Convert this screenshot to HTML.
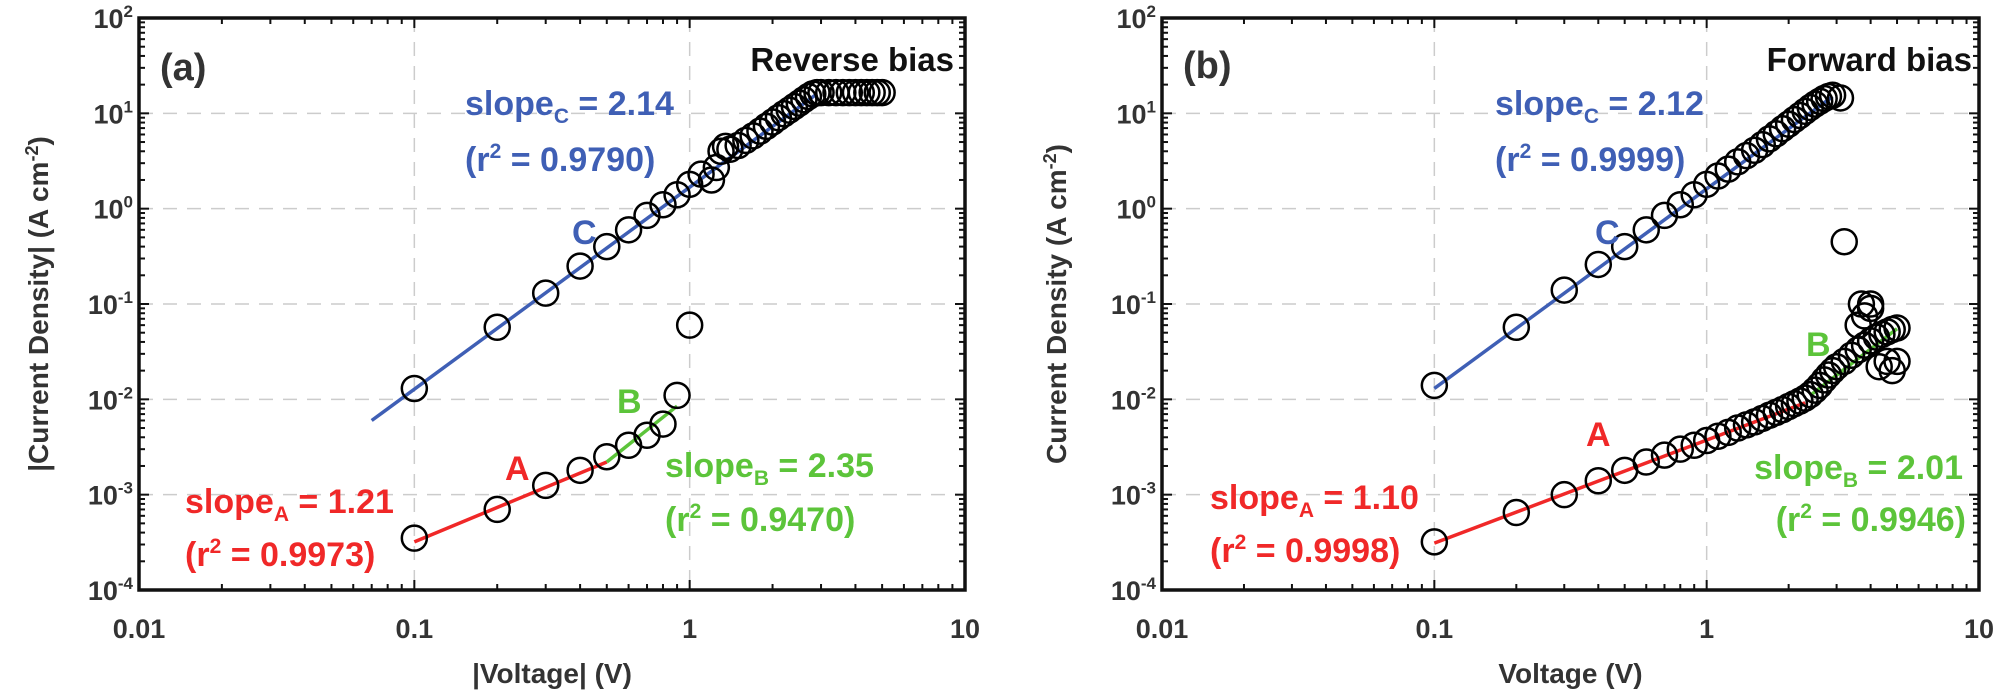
<!DOCTYPE html>
<html><head><meta charset="utf-8">
<style>
html,body{margin:0;padding:0;background:#fff;}
svg{display:block;font-family:"Liberation Sans",Arial,sans-serif;font-weight:bold;}
</style></head>
<body>
<svg id="chart" width="2000" height="695" viewBox="0 0 2000 695" xmlns="http://www.w3.org/2000/svg"></svg>
<script>
// ---- data: panel (a) reverse bias ----
const aVoltC = [0.1,0.2,0.3,0.4,0.5,0.6,0.7,0.8,0.9,1.0,1.1,1.2,1.25,1.3,1.35,1.4,1.5,1.6,1.7,1.8,1.9,2.0,2.1,2.2,2.3,2.4,2.5,2.6,2.7,2.8,2.9,3.0,3.2,3.4,3.6,3.8,4.0,4.2,4.4,4.6,4.8,5.0];
const aCurrC = [0.013,0.057,0.13,0.25,0.4,0.6,0.85,1.1,1.4,1.8,2.3,2.0,2.7,4.0,4.5,4.2,4.6,5.2,5.8,6.5,7.3,8.1,9.0,9.9,10.8,11.8,12.8,13.9,15,16,16.5,16.5,16.5,16.5,16.5,16.5,16.5,16.5,16.5,16.5,16.5,16.5];
const aVoltA = [0.1,0.2,0.3,0.4,0.5,0.6,0.7,0.8,0.9,1.0];
const aCurrA = [0.00035,0.0007,0.00125,0.0018,0.0025,0.0033,0.0042,0.0055,0.011,0.06];
const aFitC = [[0.07,0.006],[2.9,16]];
const aFitA = [[0.1,0.00032],[0.5,0.0022]];
const aFitB = [[0.5,0.0022],[0.9,0.0085]];
// ---- data: panel (b) forward bias ----
const bVoltC = [0.1,0.2,0.3,0.4,0.5,0.6,0.7,0.8,0.9,1.0,1.1,1.2,1.3,1.4,1.5,1.6,1.7,1.8,1.9,2.0,2.1,2.2,2.3,2.4,2.5,2.6,2.7,2.8,2.9,3.1,3.2];
const bCurrC = [0.014,0.057,0.14,0.26,0.4,0.6,0.85,1.1,1.4,1.8,2.2,2.6,3.1,3.6,4.1,4.7,5.4,6.1,6.9,7.7,8.6,9.5,10.5,11.5,12.5,13.4,14.3,15,15.5,14.5,0.45];
const bVoltA = [0.1,0.2,0.3,0.4,0.5,0.6,0.7,0.8,0.9,1.0,1.1,1.2,1.3,1.4,1.5,1.6,1.7,1.8,1.9,2.0,2.1,2.2,2.3,2.4,2.5,2.6,2.7,2.8,2.9,3.0,3.2,3.4,3.6,3.8,4.0,4.2,4.4,4.6,4.8,5.0,3.6,3.8,4.0,3.7,4.0,4.3,4.6,5.0,4.8];
const bCurrA = [0.00032,0.00065,0.001,0.0014,0.0018,0.0022,0.0026,0.003,0.0033,0.0037,0.0041,0.0045,0.005,0.0054,0.0058,0.0063,0.0068,0.0073,0.0078,0.0084,0.009,0.0096,0.0103,0.0112,0.0125,0.014,0.016,0.018,0.02,0.022,0.025,0.029,0.033,0.037,0.041,0.045,0.048,0.051,0.054,0.056,0.06,0.075,0.09,0.1,0.1,0.022,0.025,0.025,0.02];
const bFitC = [[0.1,0.013],[2.9,15]];
const bFitA = [[0.1,0.00031],[2.3,0.0092]];
const bFitB = [[2.4,0.011],[5.0,0.055]];
const xTickLabels = ["0.01","0.1","1","10"];
const yTickExps = ["-4","-3","-2","-1","0","1","2"];

const NS="http://www.w3.org/2000/svg";
const svg=document.getElementById('chart');
function mk(tag,attrs,parent){const e=document.createElementNS(NS,tag);for(const k in attrs)e.setAttribute(k,attrs[k]);(parent||svg).appendChild(e);return e;}

function panel(cfg){
  const g=mk('g',{});
  
  
  const L=cfg.left,R=cfg.right,T=18,B=590;
  const sx=v=>L+(Math.log10(v)+2)/3*(R-L);
  const sy=v=>B-(Math.log10(v)+4)/6*(B-T);
  const grid=mk('g',{},g);
  
  
  for(let e=-1;e<=0;e++){mk('line',{x1:sx(Math.pow(10,e)),x2:sx(Math.pow(10,e)),y1:T,y2:B,stroke:'#ccc','stroke-width':1.5,'stroke-dasharray':'14,10'},grid);}
  for(let e=-3;e<=1;e++){mk('line',{x1:L,x2:R,y1:sy(Math.pow(10,e)),y2:sy(Math.pow(10,e)),stroke:'#ccc','stroke-width':1.5,'stroke-dasharray':'14,10'},grid);}
  const ticks=mk('g',{stroke:'#111','stroke-width':2},g);
  
  
  for(let e=-2;e<1;e++)for(let m=1;m<=9;m++){const x=sx(m*Math.pow(10,e));const len=m===1?10:6;
    mk('line',{x1:x,x2:x,y1:B,y2:B-len},ticks);mk('line',{x1:x,x2:x,y1:T,y2:T+len},ticks);}
  for(let e=-4;e<2;e++)for(let m=1;m<=9;m++){const y=sy(m*Math.pow(10,e));const len=m===1?10:6;
    mk('line',{x1:L,x2:L+len,y1:y,y2:y},ticks);mk('line',{x1:R,x2:R-len,y1:y,y2:y},ticks);}
  const fr=mk('rect',{x:L,y:T,width:R-L,height:B-T,fill:'none',stroke:'#111','stroke-width':3.5},g);
  
  
  xTickLabels.forEach((t,i)=>{const tx=mk('text',{x:sx(Math.pow(10,i-2)),y:638,'text-anchor':'middle','font-size':27,fill:'#333'},g);tx.textContent=t;
    
    });
  yTickExps.forEach((t,i)=>{const tx=mk('text',{x:L-6,y:sy(Math.pow(10,i-4))+10,'text-anchor':'end','font-size':27,fill:'#333'},g);
    tx.innerHTML='10<tspan dy="-11" font-size="17">'+t+'</tspan>';
    
    });
  [[cfg.fitC,'#3f5fb5','fit-line-c'],[cfg.fitA,'#f02828','fit-line-a'],[cfg.fitB,'#5cc43a','fit-line-b']].forEach(([f,c,n])=>{
    const ln=mk('line',{x1:sx(f[0][0]),y1:sy(f[0][1]),x2:sx(f[1][0]),y2:sy(f[1][1]),stroke:c,'stroke-width':3.5},g);
    
    });
  const mg=mk('g',{fill:'none',stroke:'#000','stroke-width':2.5},g);
  
  
  [[cfg.vC,cfg.jC],[cfg.vA,cfg.jA]].forEach(([vs,js])=>vs.forEach((v,i)=>{
    const c=mk('circle',{cx:sx(v),cy:sy(js[i]),r:12.5},mg);
    
    }));
  cfg.texts.forEach(t=>{const tx=mk('text',{x:t.x,y:t.y,'font-size':t.fs||34,fill:t.c,'text-anchor':t.a||'start'},g);tx.innerHTML=t.h;
    
    });
  const yt=mk('text',{x:0,y:0,transform:`translate(${cfg.ytx},304) rotate(-90)`,'text-anchor':'middle','font-size':28,fill:'#333'},g);
  yt.innerHTML=cfg.ytitle+' (A cm<tspan dy="-10" font-size="18">-2</tspan><tspan dy="10">)</tspan>';
  
  
  const xt=mk('text',{x:(L+R)/2,y:683,'text-anchor':'middle','font-size':28,fill:'#333'},g);
  xt.textContent=cfg.xtitle;
  
  
}
const blue='#3f5fb5',red='#f02828',green='#5cc43a';
const sub=s=>'<tspan dy="8" font-size="21">'+s+'</tspan><tspan dy="-8">';
const sup='<tspan dy="-13" font-size="21">2</tspan><tspan dy="13">';
panel({name:'panel-a-reverse-bias',left:139,right:965,vC:aVoltC,jC:aCurrC,vA:aVoltA,jA:aCurrA,fitC:aFitC,fitA:aFitA,fitB:aFitB,
  ytx:48,ytitle:'|Current Density|',xtitle:'|Voltage| (V)',
  texts:[
   {x:160,y:80,h:'(a)',c:'#333',fs:38,n:'panel-label-a'},
   {x:954,y:71,h:'Reverse bias',c:'#111',fs:33,a:'end',n:'reverse-bias-label'},
   {x:465,y:115,h:'slope'+sub('C')+' = 2.14</tspan>',c:blue,n:'slope-c-annotation'},
   {x:465,y:171,h:'(r'+sup+' = 0.9790)</tspan>',c:blue,n:'r2-c-annotation'},
   {x:572,y:244,h:'C',c:blue,n:'label-c'},
   {x:617,y:413,h:'B',c:green,n:'label-b'},
   {x:665,y:477,h:'slope'+sub('B')+' = 2.35</tspan>',c:green,n:'slope-b-annotation'},
   {x:665,y:531,h:'(r'+sup+' = 0.9470)</tspan>',c:green,n:'r2-b-annotation'},
   {x:505,y:480,h:'A',c:red,n:'label-a'},
   {x:185,y:513,h:'slope'+sub('A')+' = 1.21</tspan>',c:red,n:'slope-a-annotation'},
   {x:185,y:566,h:'(r'+sup+' = 0.9973)</tspan>',c:red,n:'r2-a-annotation'}
  ]});
panel({name:'panel-b-forward-bias',left:1162,right:1979,vC:bVoltC,jC:bCurrC,vA:bVoltA,jA:bCurrA,fitC:bFitC,fitA:bFitA,fitB:bFitB,
  ytx:1066,ytitle:'Current Density',xtitle:'Voltage (V)',
  texts:[
   {x:1183,y:78,h:'(b)',c:'#333',fs:38,n:'panel-label-b'},
   {x:1972,y:71,h:'Forward bias',c:'#111',fs:33,a:'end',n:'forward-bias-label'},
   {x:1495,y:115,h:'slope'+sub('C')+' = 2.12</tspan>',c:blue,n:'slope-c-annotation'},
   {x:1495,y:171,h:'(r'+sup+' = 0.9999)</tspan>',c:blue,n:'r2-c-annotation'},
   {x:1595,y:244,h:'C',c:blue,n:'label-c'},
   {x:1806,y:356,h:'B',c:green,n:'label-b'},
   {x:1963,y:479,h:'slope'+sub('B')+' = 2.01</tspan>',c:green,a:'end',n:'slope-b-annotation'},
   {x:1966,y:531,h:'(r'+sup+' = 0.9946)</tspan>',c:green,a:'end',n:'r2-b-annotation'},
   {x:1586,y:446,h:'A',c:red,n:'label-a'},
   {x:1210,y:509,h:'slope'+sub('A')+' = 1.10</tspan>',c:red,n:'slope-a-annotation'},
   {x:1210,y:562,h:'(r'+sup+' = 0.9998)</tspan>',c:red,n:'r2-a-annotation'}
  ]});
</script>
</body></html>
